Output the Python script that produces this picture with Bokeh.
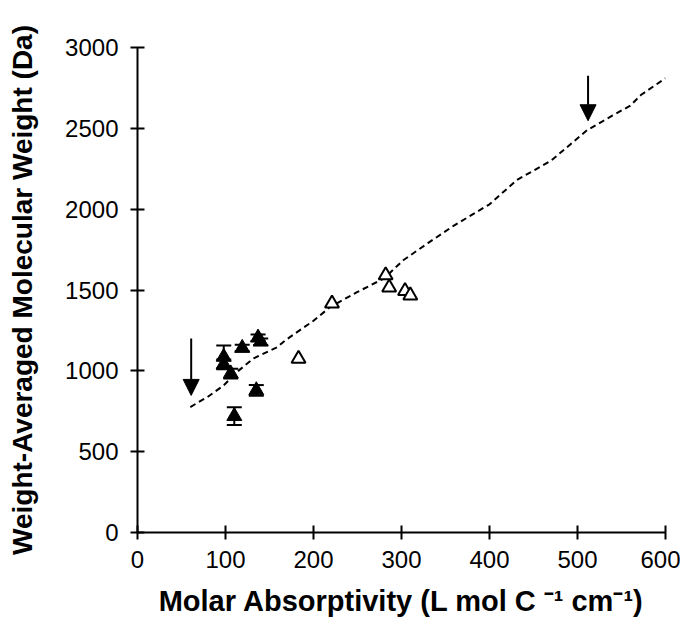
from bokeh.plotting import figure
from bokeh.models import (Range1d, FixedTicker, ColumnDataSource, Whisker, TeeHead,
                          Arrow, NormalHead)
from bokeh.embed import file_html
from bokeh.resources import INLINE

# Filled triangles (with error bars)
filled_x = [98, 98, 106, 110, 119, 135, 137, 140]
filled_y = [1086, 1040, 983, 720, 1141, 879, 1205, 1180]
filled_err = [70, 30, 30, 55, 20, 33, 20, 20]

# Open triangles
open_x = [183, 221, 282, 286, 304, 310]
open_y = [1075, 1416, 1591, 1515, 1494, 1467]

# Dashed model curve
curve_x = [60, 80, 98, 113, 132, 159, 168, 200, 219, 250, 280, 302, 330, 360, 400, 431, 470, 511, 540, 560, 572, 600]
curve_y = [776, 840, 910, 993, 1077, 1147, 1189, 1310, 1395, 1488, 1571, 1684, 1790, 1900, 2030, 2180, 2300, 2489, 2580, 2640, 2706, 2810]

# Arrows (start and end in data units)
arrow_x = [61, 512]
arrow_y_start = [1200, 2825]
arrow_y_end = [848, 2547]

x_ticks = [0, 100, 200, 300, 400, 500, 600]
y_ticks = [0, 500, 1000, 1500, 2000, 2500, 3000]

FONT = "Liberation Sans"

p = figure(width=680, height=629, output_backend="svg", toolbar_location=None,
           x_range=Range1d(0, 600), y_range=Range1d(0, 3000),
           min_border_left=137, min_border_right=15, min_border_top=47, min_border_bottom=97)
p.outline_line_color = None
p.xgrid.visible = False
p.ygrid.visible = False
p.background_fill_color = "white"

for ax in (p.xaxis[0], p.yaxis[0]):
    ax.axis_line_color = "black"
    ax.axis_line_width = 2
    ax.major_tick_line_color = "black"
    ax.major_tick_line_width = 2
    ax.major_tick_in = 7
    ax.major_tick_out = 7
    ax.minor_tick_line_color = None
    ax.major_label_text_font = FONT
    ax.major_label_text_font_size = "24px"
    ax.major_label_text_color = "black"
    ax.axis_label_text_font = FONT
    ax.axis_label_text_font_style = "bold"
    ax.axis_label_text_color = "black"

p.xaxis.axis_label_text_font_size = "29px"
p.yaxis.axis_label_text_font_size = "28px"
p.xaxis.ticker = FixedTicker(ticks=x_ticks)
p.yaxis.ticker = FixedTicker(ticks=y_ticks)
p.xaxis.major_label_standoff = 11
p.yaxis.major_label_standoff = 12
p.xaxis.axis_label = "Molar Absorptivity (L mol C \u207b\u00b9 cm\u207b\u00b9)"
p.yaxis.axis_label = "Weight-Averaged Molecular Weight (Da)"
p.xaxis.axis_label_standoff = 14
p.yaxis.axis_label_standoff = 24

# Dashed curve
p.line(curve_x, curve_y, line_color="black", line_width=2, line_dash="6 4")

# Error bars
fsrc = ColumnDataSource(dict(x=filled_x, y=filled_y,
                             lo=[y - e for y, e in zip(filled_y, filled_err)],
                             hi=[y + e for y, e in zip(filled_y, filled_err)]))
w = Whisker(source=fsrc, base="x", lower="lo", upper="hi", line_color="black", line_width=2,
            upper_head=TeeHead(size=15, line_width=2, line_color="black"),
            lower_head=TeeHead(size=15, line_width=2, line_color="black"))
p.add_layout(w)

p.scatter("x", "y", source=fsrc, marker="triangle", size=15, fill_color="black", line_color="black")
p.scatter(open_x, open_y, marker="triangle", size=14, fill_color="white", line_color="black", line_width=2)

for xa, ys, ye in zip(arrow_x, arrow_y_start, arrow_y_end):
    p.add_layout(Arrow(x_start=xa, y_start=ys, x_end=xa, y_end=ye, line_width=2, line_color="black",
                       end=NormalHead(size=16, fill_color="black", line_color="black", line_width=1)))

open("out.html", "w").write(file_html(p, INLINE))
